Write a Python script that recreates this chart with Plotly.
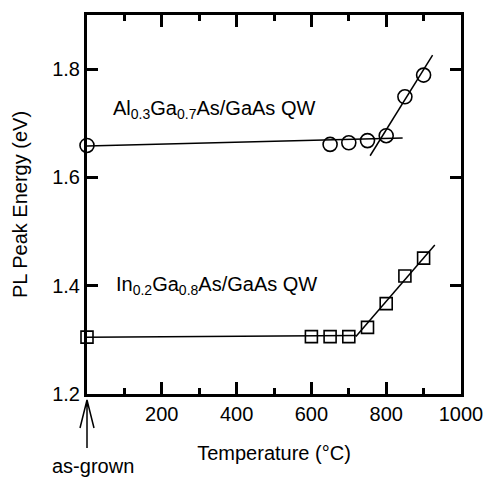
import plotly.graph_objects as go

# Data
temp_algaas = [0, 650, 700, 750, 800, 850, 900]
energy_algaas = [1.659, 1.661, 1.664, 1.668, 1.677, 1.749, 1.789]

temp_ingaas = [0, 600, 650, 700, 750, 800, 850, 900]
energy_ingaas = [1.305, 1.306, 1.306, 1.306, 1.323, 1.367, 1.418, 1.451]

# Guide (fit) lines
algaas_flat_x = [0, 844]
algaas_flat_y = [1.658, 1.673]
algaas_steep_x = [757, 924]
algaas_steep_y = [1.640, 1.826]

ingaas_flat_x = [0, 719]
ingaas_flat_y = [1.305, 1.308]
ingaas_steep_x = [719, 930]
ingaas_steep_y = [1.306, 1.475]

x_tickvals = [200, 400, 600, 800, 1000]
x_ticktext = ["200", "400", "600", "800", "1000"]
x_minor = [100, 300, 500, 700, 900]
y_tickvals = [1.2, 1.4, 1.6, 1.8]
y_ticktext = ["1.2", "1.4", "1.6", "1.8"]

X_RANGE = [0, 1000]
Y_RANGE = [1.2, 1.9]

FONT = "Liberation Sans"
line_style = dict(color="black", width=1.5)

fig = go.Figure()

for xs, ys in [(algaas_flat_x, algaas_flat_y), (algaas_steep_x, algaas_steep_y),
               (ingaas_flat_x, ingaas_flat_y), (ingaas_steep_x, ingaas_steep_y)]:
    fig.add_trace(go.Scatter(x=xs, y=ys, mode="lines", line=line_style,
                             showlegend=False, hoverinfo="skip", cliponaxis=False))

fig.add_trace(go.Scatter(x=temp_algaas, y=energy_algaas, mode="markers",
                         marker=dict(symbol="circle-open", size=14, color="black",
                                     line=dict(width=1.6, color="black")),
                         showlegend=False, cliponaxis=False))
fig.add_trace(go.Scatter(x=temp_ingaas, y=energy_ingaas, mode="markers",
                         marker=dict(symbol="square-open", size=12, color="black",
                                     line=dict(width=1.6, color="black")),
                         showlegend=False, cliponaxis=False))

fig.add_annotation(x=65, y=1.725, xref="x", yref="y", xanchor="left", yanchor="middle",
                   text="Al<sub>0.3</sub>Ga<sub>0.7</sub>As/GaAs QW", showarrow=False,
                   font=dict(size=20, color="black", family=FONT))
fig.add_annotation(x=72, y=1.40, xref="x", yref="y", xanchor="left", yanchor="middle",
                   text="In<sub>0.2</sub>Ga<sub>0.8</sub>As/GaAs QW", showarrow=False,
                   font=dict(size=20, color="black", family=FONT))

# as-grown arrow (paper-referenced so it is not clipped at the plot edge)
fig.add_shape(type="path", xref="paper", yref="paper", xsizemode="pixel", ysizemode="pixel",
              xanchor=0, yanchor=0,
              path="M0,-6 L0,-54 M-7,-34 L0,-6 L7,-34",
              line=dict(color="black", width=1.5))
fig.add_annotation(x=0, y=-0.19, xref="x", yref="paper", xshift=6, xanchor="center",
                   yanchor="middle", text="as-grown", showarrow=False,
                   font=dict(size=20, color="black", family=FONT))

fig.update_layout(
    width=495, height=477,
    margin=dict(l=87, r=25, t=13, b=83),
    paper_bgcolor="white", plot_bgcolor="white",
    font=dict(family=FONT, size=20, color="black"),
    xaxis=dict(range=X_RANGE, showgrid=False, zeroline=False,
               showline=True, linewidth=3, linecolor="black", mirror="ticks",
               ticks="inside", ticklen=12, tickwidth=3, tickcolor="black",
               tickmode="array", tickvals=x_tickvals, ticktext=x_ticktext,
               minor=dict(tickmode="array", tickvals=x_minor, ticks="inside",
                          ticklen=6, tickwidth=3, tickcolor="black", showgrid=False),
               title=dict(text="Temperature (°C)", standoff=22,
                          font=dict(size=20, family=FONT))),
    yaxis=dict(range=Y_RANGE, showgrid=False, zeroline=False,
               showline=True, linewidth=3, linecolor="black", mirror="ticks",
               ticks="inside", ticklen=11, tickwidth=3, tickcolor="black",
               tickmode="array", tickvals=y_tickvals, ticktext=y_ticktext,
               title=dict(text="PL Peak Energy (eV)", standoff=20,
                          font=dict(size=20, family=FONT))),
)

fig.write_html("out.html")
